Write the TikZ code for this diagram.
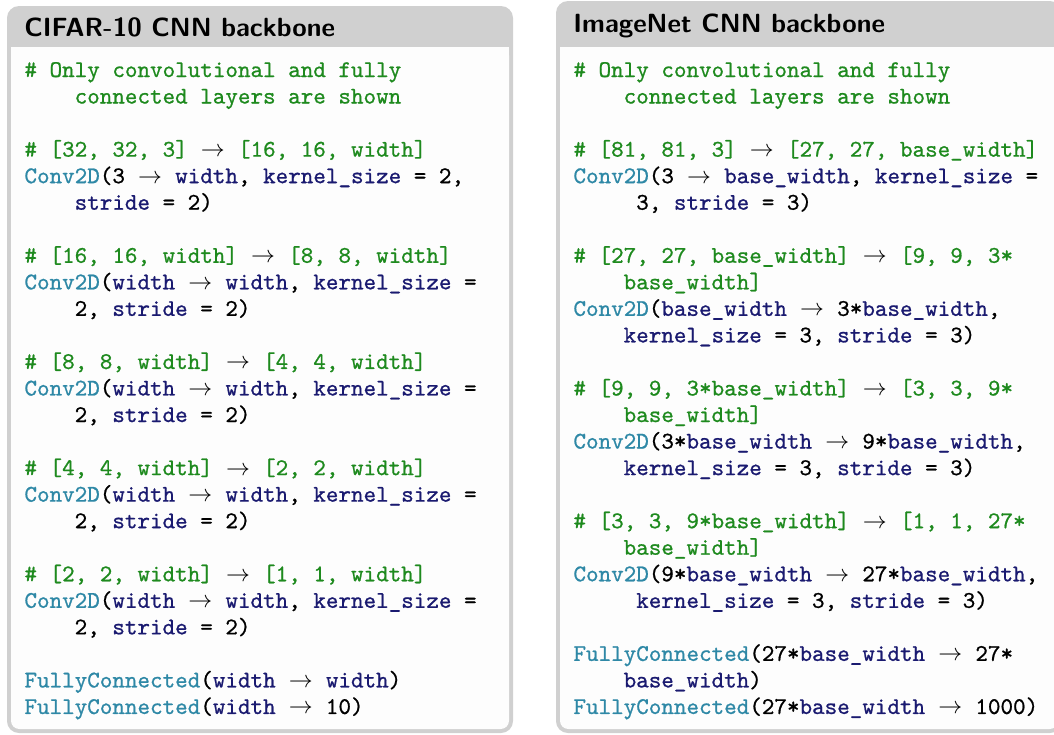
\documentclass[tikz,border=0pt]{standalone}
\usepackage{fontspec}
\usepackage{xcolor}
\newfontfamily\codefont{Latin Modern Mono}[FakeBold=0.8]
\newfontfamily\titlefont{Latin Modern Sans}[FakeBold=0.5]
\definecolor{framegray}{HTML}{D0D0D0}
\definecolor{bodywhite}{HTML}{FDFDFD}
\definecolor{cmtgreen}{RGB}{30,138,30}
\definecolor{fnteal}{RGB}{46,136,166}
\definecolor{kwnavy}{RGB}{26,26,112}
\newcommand\cmt[1]{\textcolor{cmtgreen}{#1}}
\newcommand\fnc[1]{\textcolor{fnteal}{#1}}
\newcommand\kw[1]{\textcolor{kwnavy}{#1}}
\newcommand\arr{\makebox[10.5pt]{\color{black}$\rightarrow$}}
\newcommand\bw{\kw{base\_width}}
\begin{document}
\begin{tikzpicture}[x=0.418pt,y=-0.418pt,
  codeline/.style={anchor=base west,inner sep=0pt,font=\codefont\fontsize{10}{11}\selectfont\frenchspacing},
  titletext/.style={anchor=base west,inner sep=0pt,font=\sffamily\bfseries\fontsize{11}{13}\selectfont}]
\useasboundingbox (0,0) rectangle (1054,734);
% left box
\fill[framegray,rounded corners=5pt] (7,6) rectangle (513,733);
\fill[bodywhite,rounded corners=3.5pt] (11,47) -- (509,47) -- (509,729) -- (11,729) -- cycle;
\fill[bodywhite] (11,47) rectangle (509,60);
% right box
\fill[framegray,rounded corners=5pt] (556,1) rectangle (1062,733);
\fill[bodywhite,rounded corners=3.5pt] (560,47) -- (1058,47) -- (1058,729) -- (560,729) -- cycle;
\fill[bodywhite] (560,47) rectangle (1058,60);
\node[titletext] (ltitle) at (24,36) {CIFAR-10 CNN backbone};
\node[titletext] (rtitle) at (573,32) {ImageNet CNN backbone};
\def\c{12.55}
% left code
\node[codeline] (l0) at (24,77) {\cmt{\# Only convolutional and fully}};
\node[codeline] (l1) at (24+4*\c,77+1*26.54) {\cmt{connected layers are shown}};
\node[codeline] (l3) at (24,77+3*26.54) {\cmt{\# [32, 32, 3]} \arr{} \cmt{[16, 16, width]}};
\node[codeline] (l4) at (24,77+4*26.54) {\fnc{Conv2D}(3 \arr{} \kw{width}, \kw{kernel\_size} = 2,};
\node[codeline] (l5) at (24+4*\c,77+5*26.54) {\kw{stride} = 2)};
\node[codeline] (l7) at (24,77+7*26.54) {\cmt{\# [16, 16, width]} \arr{} \cmt{[8, 8, width]}};
\node[codeline] (l8) at (24,77+8*26.54) {\fnc{Conv2D}(\kw{width} \arr{} \kw{width}, \kw{kernel\_size} =};
\node[codeline] (l9) at (24+4*\c,77+9*26.54) {2, \kw{stride} = 2)};
\node[codeline] (l11) at (24,77+11*26.54) {\cmt{\# [8, 8, width]} \arr{} \cmt{[4, 4, width]}};
\node[codeline] (l12) at (24,77+12*26.54) {\fnc{Conv2D}(\kw{width} \arr{} \kw{width}, \kw{kernel\_size} =};
\node[codeline] (l13) at (24+4*\c,77+13*26.54) {2, \kw{stride} = 2)};
\node[codeline] (l15) at (24,77+15*26.54) {\cmt{\# [4, 4, width]} \arr{} \cmt{[2, 2, width]}};
\node[codeline] (l16) at (24,77+16*26.54) {\fnc{Conv2D}(\kw{width} \arr{} \kw{width}, \kw{kernel\_size} =};
\node[codeline] (l17) at (24+4*\c,77+17*26.54) {2, \kw{stride} = 2)};
\node[codeline] (l19) at (24,77+19*26.54) {\cmt{\# [2, 2, width]} \arr{} \cmt{[1, 1, width]}};
\node[codeline] (l20) at (24,77+20*26.54) {\fnc{Conv2D}(\kw{width} \arr{} \kw{width}, \kw{kernel\_size} =};
\node[codeline] (l21) at (24+4*\c,77+21*26.54) {2, \kw{stride} = 2)};
\node[codeline] (l23) at (24,77+23*26.54) {\fnc{FullyConnected}(\kw{width} \arr{} \kw{width})};
\node[codeline] (l24) at (24,77+24*26.54) {\fnc{FullyConnected}(\kw{width} \arr{} 10)};
% right code
\node[codeline] (r0) at (573,77) {\cmt{\# Only convolutional and fully}};
\node[codeline] (r1) at (573+4*\c,77+1*26.54) {\cmt{connected layers are shown}};
\node[codeline] (r3) at (573,77+3*26.54) {\cmt{\# [81, 81, 3]} \arr{} \cmt{[27, 27, base\_width]}};
\node[codeline] (r4) at (573,77+4*26.54) {\fnc{Conv2D}(3 \arr{} \bw, \kw{kernel\_size} =};
\node[codeline] (r5) at (573+5*\c,77+5*26.54) {3, \kw{stride} = 3)};
\node[codeline] (r7) at (573,77+7*26.54) {\cmt{\# [27, 27, base\_width]} \arr{} \cmt{[9, 9, 3*}};
\node[codeline] (r8) at (573+4*\c,77+8*26.54) {\cmt{base\_width]}};
\node[codeline] (r9) at (573,77+9*26.54) {\fnc{Conv2D}(\bw{} \arr{} 3*\bw,};
\node[codeline] (r10) at (573+4*\c,77+10*26.54) {\kw{kernel\_size} = 3, \kw{stride} = 3)};
\node[codeline] (r12) at (573,77+12*26.54) {\cmt{\# [9, 9, 3*base\_width]} \arr{} \cmt{[3, 3, 9*}};
\node[codeline] (r13) at (573+4*\c,77+13*26.54) {\cmt{base\_width]}};
\node[codeline] (r14) at (573,77+14*26.54) {\fnc{Conv2D}(3*\bw{} \arr{} 9*\bw,};
\node[codeline] (r15) at (573+4*\c,77+15*26.54) {\kw{kernel\_size} = 3, \kw{stride} = 3)};
\node[codeline] (r17) at (573,77+17*26.54) {\cmt{\# [3, 3, 9*base\_width]} \arr{} \cmt{[1, 1, 27*}};
\node[codeline] (r18) at (573+4*\c,77+18*26.54) {\cmt{base\_width]}};
\node[codeline] (r19) at (573,77+19*26.54) {\fnc{Conv2D}(9*\bw{} \arr{} 27*\bw,};
\node[codeline] (r20) at (573+5*\c,77+20*26.54) {\kw{kernel\_size} = 3, \kw{stride} = 3)};
\node[codeline] (r22) at (573,77+22*26.54) {\fnc{FullyConnected}(27*\bw{} \arr{} 27*};
\node[codeline] (r23) at (573+4*\c,77+23*26.54) {\bw)};
\node[codeline] (r24) at (573,77+24*26.54) {\fnc{FullyConnected}(27*\bw{} \arr{} 1000)};
\end{tikzpicture}
\end{document}
